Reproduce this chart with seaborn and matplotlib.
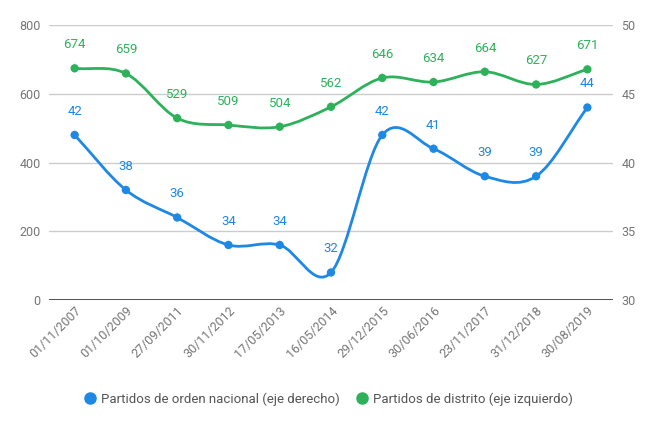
import numpy as np
import pandas as pd
import matplotlib
matplotlib.use("Agg")
import matplotlib.pyplot as plt
from matplotlib.path import Path
from matplotlib.patches import PathPatch
from matplotlib.lines import Line2D
import seaborn as sns

fechas = ["01/11/2007", "01/10/2009", "27/09/2011", "30/11/2012", "17/05/2013",
          "16/05/2014", "29/12/2015", "30/06/2016", "23/11/2017", "31/12/2018",
          "30/08/2019"]
nacional = [42, 38, 36, 34, 34, 32, 42, 41, 39, 39, 44]
distrito = [674, 659, 529, 509, 504, 562, 646, 634, 664, 627, 671]

BLUE = "#1e88e5"
GREEN = "#2eb15b"
TICK = "#757575"

sns.set_style("white")
plt.rcParams["font.family"] = ["Roboto", "DejaVu Sans"]

df = pd.DataFrame({"pos": np.arange(len(fechas)), "fecha": fechas,
                   "nacional": nacional, "distrito": distrito})

fig = plt.figure(figsize=(6.56, 4.32), dpi=100)
ax = fig.add_axes([49/656, 1-300/432, (613-49)/656, (300-25)/432])
ax2 = ax.twinx()


def smooth_path(xs, ys):
    xs = np.asarray(xs, float)
    ys = np.asarray(ys, float)
    n = len(xs)
    tx = np.empty(n)
    ty = np.empty(n)
    for i in range(n):
        if i == 0:
            tx[i], ty[i] = xs[1]-xs[0], ys[1]-ys[0]
        elif i == n-1:
            tx[i], ty[i] = xs[-1]-xs[-2], ys[-1]-ys[-2]
        else:
            tx[i], ty[i] = (xs[i+1]-xs[i-1])/2, (ys[i+1]-ys[i-1])/2
    verts = [(xs[0], ys[0])]
    codes = [Path.MOVETO]
    for i in range(n-1):
        verts += [(xs[i]+tx[i]/3, ys[i]+ty[i]/3),
                  (xs[i+1]-tx[i+1]/3, ys[i+1]-ty[i+1]/3),
                  (xs[i+1], ys[i+1])]
        codes += [Path.CURVE4]*3
    return Path(verts, codes)


for a, col, c in [(ax, "distrito", GREEN), (ax2, "nacional", BLUE)]:
    for x, y in zip(df["pos"], df[col]):
        a.annotate(str(y), xy=(x, y), xytext=(0, 17), textcoords="offset points",
                   ha="center", va="center", color=c, fontsize=9.5,
                   arrowprops=dict(arrowstyle="-", color="#ececec", lw=1,
                                   shrinkA=6, shrinkB=4), zorder=2.5)

# Green series on left axis
ax.add_patch(PathPatch(smooth_path(df["pos"], df["distrito"]), fill=False,
                       edgecolor=GREEN, lw=2, zorder=3, capstyle="round"))
sns.scatterplot(data=df, x="pos", y="distrito", ax=ax, color=GREEN, s=36,
                edgecolor="none", zorder=4, legend=False)

# Blue series on right axis
ax2.add_patch(PathPatch(smooth_path(df["pos"], df["nacional"]), fill=False,
                        edgecolor=BLUE, lw=2, zorder=3, capstyle="round"))
sns.scatterplot(data=df, x="pos", y="nacional", ax=ax2, color=BLUE, s=36,
                edgecolor="none", zorder=4, legend=False)

ax.set_xlim(-0.5, len(fechas)-0.5)
ax.set_ylim(0, 800)
ax2.set_ylim(30, 50)
ax.set_yticks([0, 200, 400, 600, 800])
ax2.set_yticks([30, 35, 40, 45, 50])
ax.set_xticks(df["pos"])
ax.set_xticklabels(fechas, rotation=45, ha="right", rotation_mode="anchor")
ax.set_xlabel("")
ax.set_ylabel("")
ax2.set_ylabel("")

ax.grid(axis="y", color="#cccccc", lw=1)
ax.set_axisbelow(True)
for a in (ax, ax2):
    for s in a.spines.values():
        s.set_visible(False)
    a.tick_params(length=0, colors=TICK, labelsize=9)
ax.tick_params(axis="y", pad=6)
ax2.tick_params(axis="y", pad=6)
ax.tick_params(axis="x", pad=3)
ax.axhline(0, color="#333333", lw=1.2, zorder=2)

handles = [Line2D([], [], marker="o", ls="none", color=BLUE, markersize=8),
           Line2D([], [], marker="o", ls="none", color=GREEN, markersize=8)]
fig.legend(handles, ["Partidos de orden nacional (eje derecho)",
                     "Partidos de distrito (eje izquierdo)"],
           loc="center", bbox_to_anchor=(0.5, 1-399/432), ncol=2, frameon=False,
           fontsize=9.5, labelcolor="#555555", handletextpad=0.3, columnspacing=1.2,
           handlelength=1.0)

fig.savefig("out.png", dpi=100)
